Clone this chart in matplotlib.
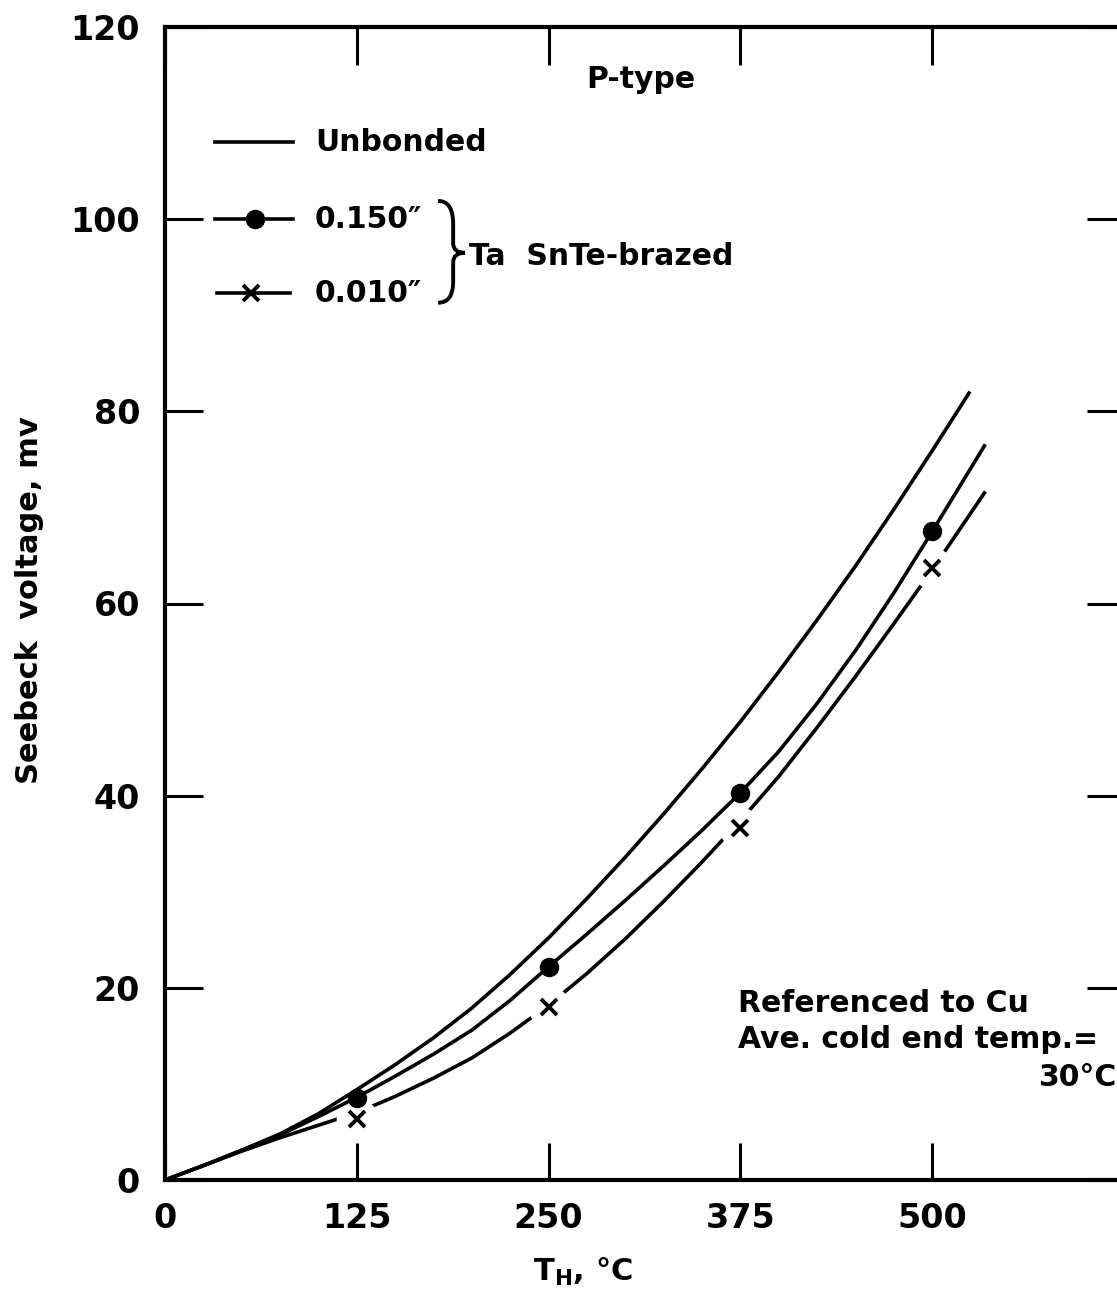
import matplotlib
matplotlib.use('Agg')
import matplotlib.pyplot as plt
from matplotlib.path import Path
from matplotlib.patches import PathPatch

plt.rcParams['font.family'] = ['DejaVu Sans']
plt.rcParams['font.weight'] = 'bold'

# curves (T_H in deg C, Seebeck voltage in mV)
unbonded_t = [0, 25, 50, 75, 100, 125, 150, 175, 200, 225, 250, 275, 300, 325,
              350, 375, 400, 425, 450, 475, 500, 524]
unbonded_v = [0, 1.5, 3.1, 4.8, 6.9, 9.4, 12.0, 14.8, 17.9, 21.4, 25.2, 29.3,
              33.6, 38.1, 42.8, 47.7, 52.9, 58.3, 63.9, 69.8, 75.9, 81.9]

thick_t = [0, 25, 50, 75, 100, 125, 150, 175, 200, 225, 250, 275, 300, 325,
           350, 375, 400, 425, 450, 475, 500, 534]
thick_v = [0, 1.5, 3.1, 4.7, 6.6, 8.6, 10.8, 13.1, 15.6, 18.7, 22.2, 25.6,
           29.1, 32.7, 36.4, 40.3, 44.6, 49.6, 55.1, 61.1, 67.5, 76.4]

thin_t = [0, 25, 50, 75, 100, 125, 150, 175, 200, 225, 250, 275, 300, 325,
          350, 375, 400, 425, 450, 475, 500, 534]
thin_v = [0, 1.5, 3.0, 4.4, 5.7, 7.0, 8.7, 10.6, 12.7, 15.3, 18.2, 21.5,
          25.1, 29.0, 33.1, 37.4, 42.0, 47.1, 52.4, 57.9, 63.5, 71.5]

# measured points
dot_t = [125, 250, 375, 500]
dot_v = [8.5, 22.2, 40.3, 67.5]
cross_t = [125, 250, 375, 500]
cross_v = [6.4, 18.0, 36.6, 63.7]

xticks = [0, 125, 250, 375, 500]
yticks = [0, 20, 40, 60, 80, 100, 120]

fig = plt.figure(figsize=(11.17, 12.98), dpi=100)
ax = fig.add_axes([165 / 1117, 118 / 1298, 959 / 1117, 1153 / 1298])
ax.set_xlim(0, 625)
ax.set_ylim(0, 120)

lw = 2.6
ax.plot(thin_t, thin_v, color='black', lw=lw, zorder=2)
# white halo so the 0.010" line breaks around each cross
ax.plot(cross_t, cross_v, 'o', ms=30, color='white', mec='none', zorder=3)
ax.plot(cross_t, cross_v, 'x', ms=12, mew=2.8, color='black', zorder=4)
ax.plot(thick_t, thick_v, color='black', lw=lw, zorder=5)
ax.plot(dot_t, dot_v, 'o', ms=13, color='black', zorder=6)
ax.plot(unbonded_t, unbonded_v, color='black', lw=lw, zorder=5)

ax.set_xticks(xticks)
ax.set_yticks(yticks)
ax.set_xticklabels([str(t) for t in xticks])
ax.set_yticklabels([str(t) for t in yticks])
ax.tick_params(direction='in', length=27, width=2.2, labelsize=24,
               top=True, right=True)
ax.tick_params(axis='x', pad=16)
ax.tick_params(axis='y', pad=18)
for s in ax.spines.values():
    s.set_linewidth(3)

fs = 21.5

# hand drawn legend
ax.plot([32.6, 83.4], [108.0, 108.0], color='black', lw=lw)
ax.text(97.8, 108.0, 'Unbonded', fontsize=fs, va='center')
ax.plot([32.6, 83.4], [100.0, 100.0], color='black', lw=lw)
ax.plot([58.6], [100.0], 'o', ms=13, color='black')
ax.text(97.8, 100.0, '0.150″', fontsize=fs, va='center')
ax.plot([33.9, 81.5], [92.3, 92.3], color='black', lw=lw)
ax.plot([56.0], [92.3], 'x', ms=12, mew=2.8, color='black')
ax.text(97.8, 92.3, '0.010″', fontsize=fs, va='center')

brace = Path([(178, 101.9), (187.8, 101.9), (187.8, 99.5),
              (187.8, 97.5), (187.8, 96.5), (195.5, 96.5),
              (187.8, 96.5), (187.8, 95.5), (187.8, 93.5),
              (187.8, 91.3), (178, 91.3)],
             [Path.MOVETO, Path.CURVE3, Path.CURVE3,
              Path.LINETO, Path.CURVE3, Path.CURVE3,
              Path.CURVE3, Path.CURVE3, Path.LINETO,
              Path.CURVE3, Path.CURVE3])
ax.add_patch(PathPatch(brace, fill=False, lw=2.8, color='black'))
ax.text(198, 96.1, 'Ta  SnTe-brazed', fontsize=fs, va='center')

ax.text(310, 114.5, 'P-type', fontsize=fs, ha='center', va='center')

ax.text(373.4, 18.4, 'Referenced to Cu', fontsize=fs, va='center')
ax.text(373.4, 14.6, 'Ave. cold end temp.=', fontsize=fs, va='center')
ax.text(620, 10.7, '30°C', fontsize=fs, va='center', ha='right')

fig.text(30 / 1117, 1 - 600 / 1298, 'Seebeck  voltage, mv', rotation=90,
         fontsize=22, ha='center', va='center')
fig.text(583 / 1117, 1 - 1272 / 1298, r'T$_\mathregular{H}$, °C',
         fontsize=22, ha='center', va='center')

fig.savefig('out.png', dpi=100)
